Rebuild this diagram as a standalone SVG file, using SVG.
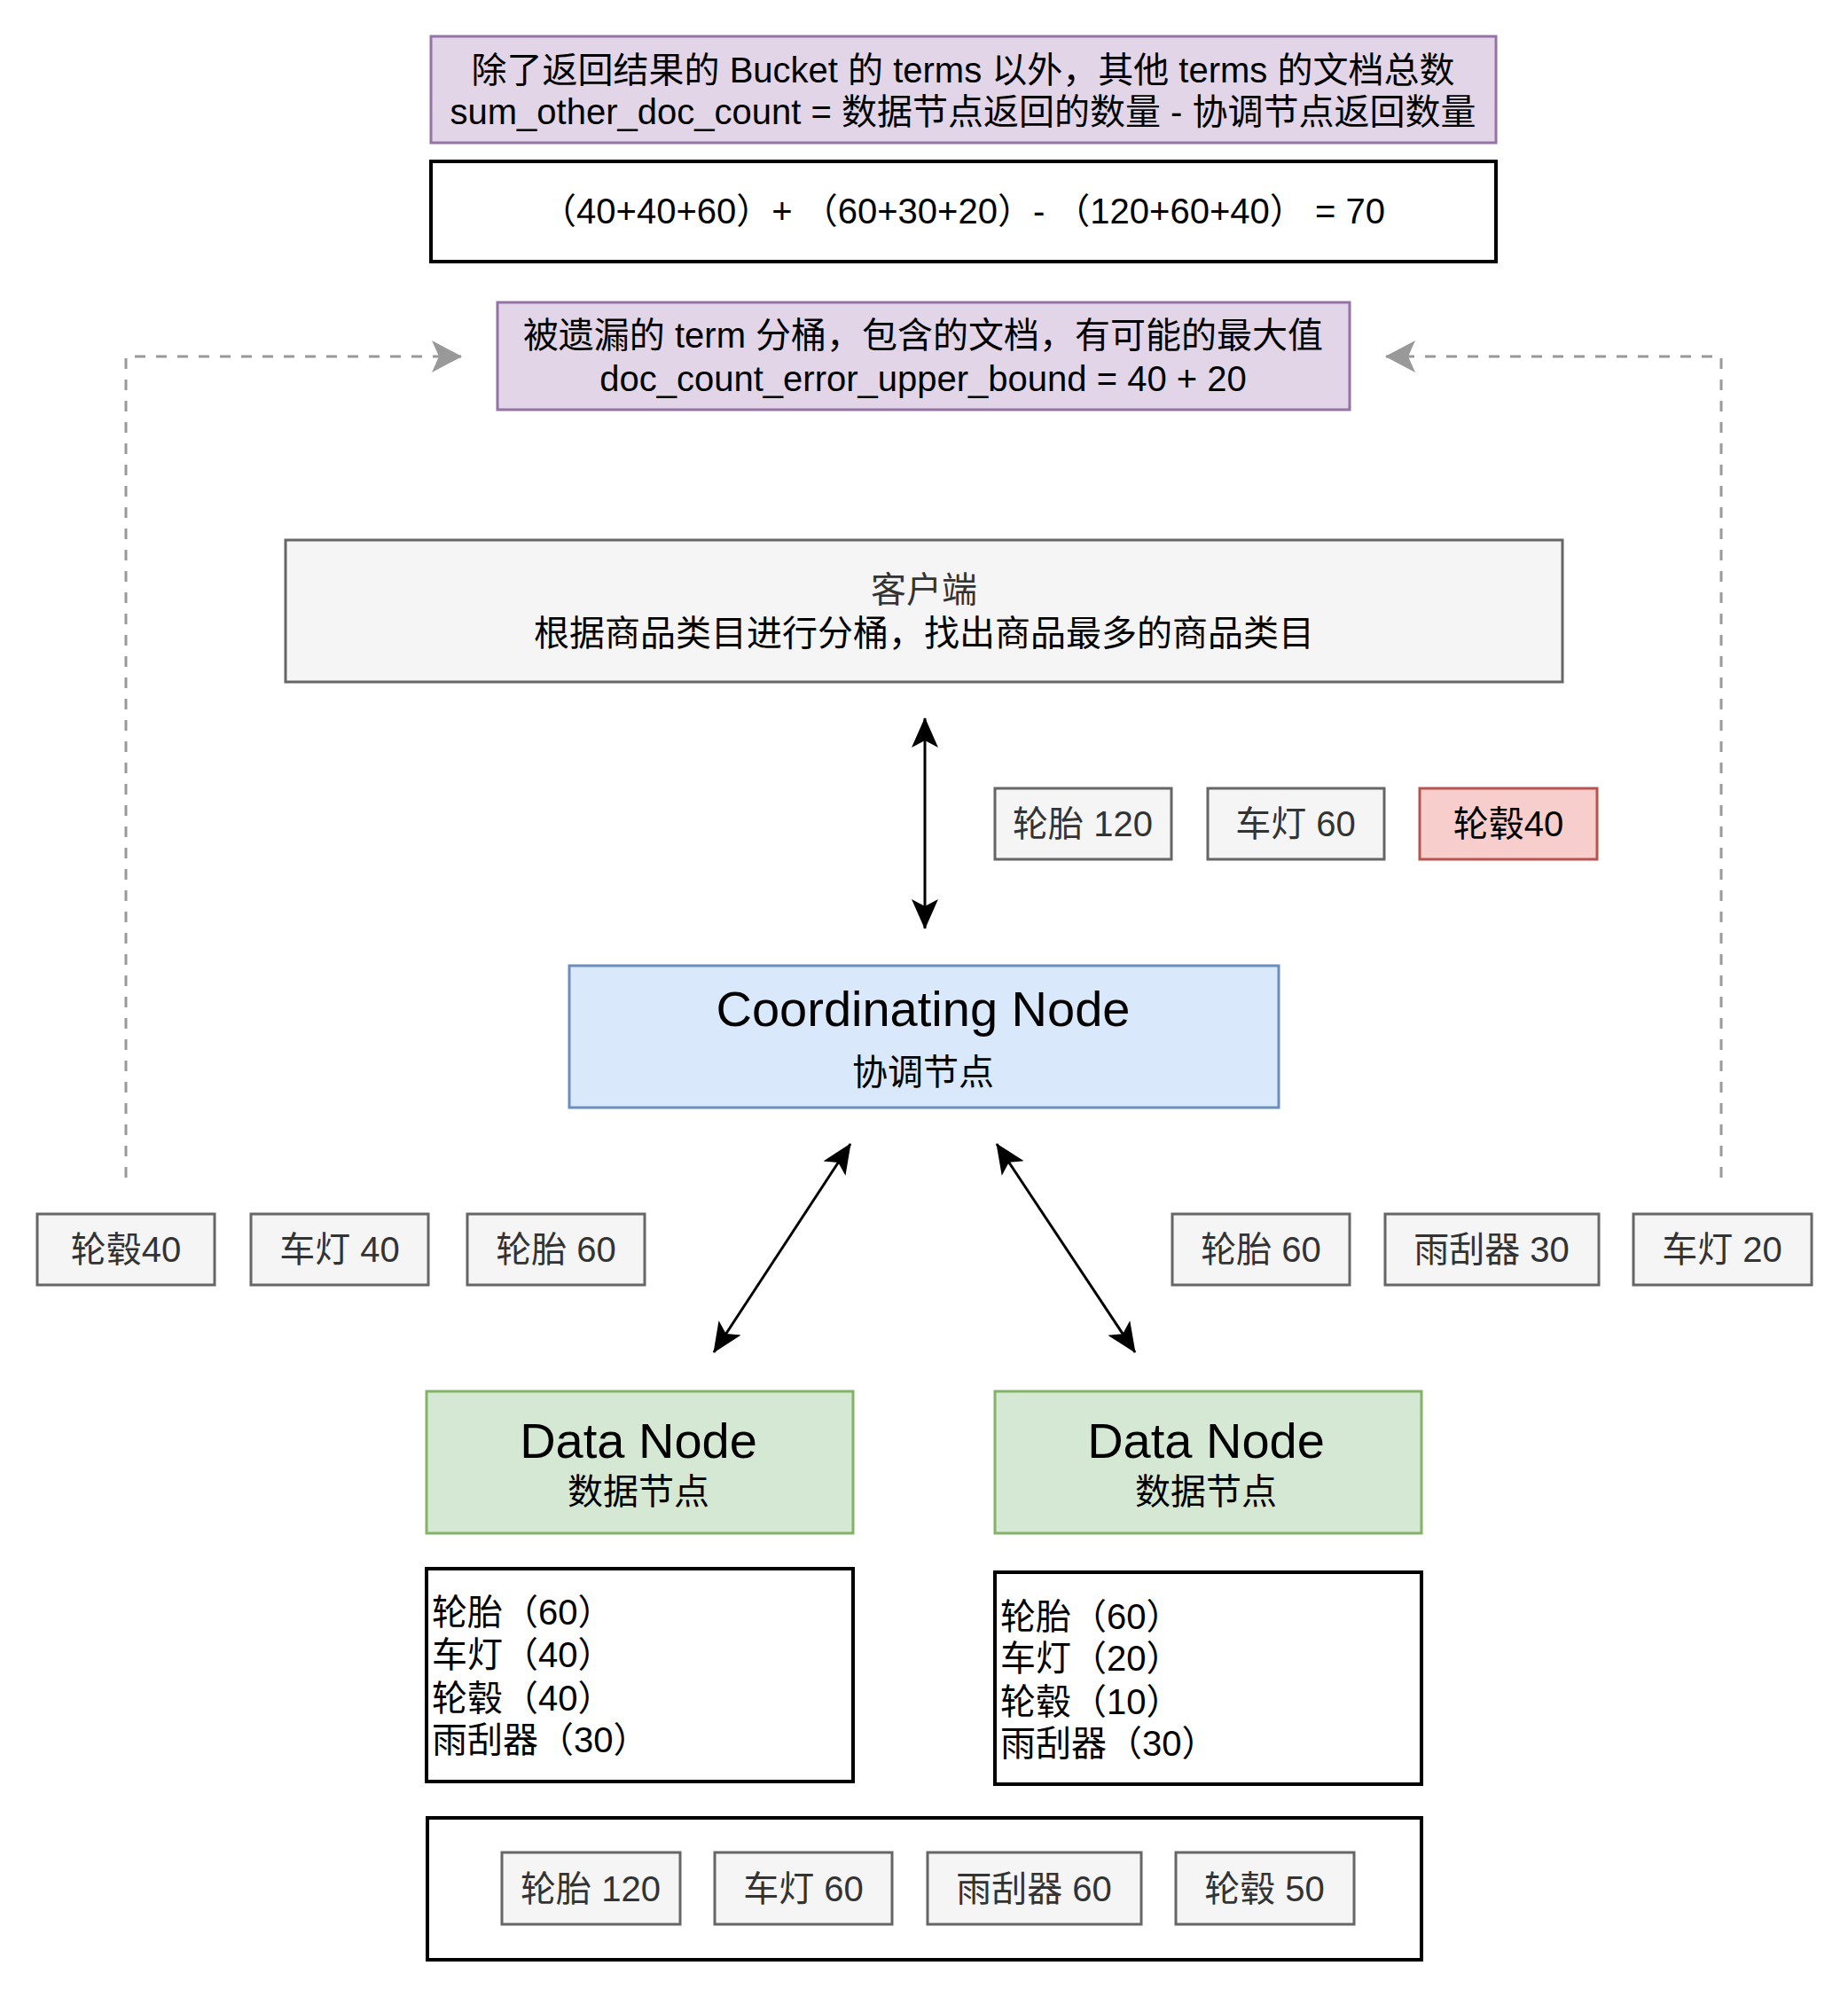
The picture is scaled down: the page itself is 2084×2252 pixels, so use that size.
<svg xmlns="http://www.w3.org/2000/svg" width="2084" height="2252" viewBox="0 0 2084 2252">
<defs>
<style>
text{font-family:"Liberation Sans","Noto Sans CJK SC",sans-serif;font-size:40px;text-anchor:middle;dominant-baseline:central;fill:#000}
.g{fill:#333333}
.big{font-size:56px}
.l{text-anchor:start}
.purple{fill:#e1d5e7;stroke:#9673a6;stroke-width:3}
.plain{fill:#ffffff;stroke:#000000;stroke-width:4}
.gray{fill:#f5f5f5;stroke:#666666;stroke-width:3}
.red{fill:#f8cecc;stroke:#b85450;stroke-width:3}
.blue{fill:#dae8fc;stroke:#6c8ebf;stroke-width:3}
.green{fill:#d5e8d4;stroke:#82b366;stroke-width:3}
.conn{fill:none;stroke:#000;stroke-width:3}
.dash{fill:none;stroke:#999999;stroke-width:3;stroke-dasharray:12 12}
</style>
<marker id="ab" viewBox="0 0 34 32" markerUnits="userSpaceOnUse" markerWidth="34" markerHeight="32" refX="33" refY="16" orient="auto-start-reverse">
<path d="M0,1 L34,16 L0,31 L8,16 Z" fill="#000"/>
</marker>
<marker id="ag" viewBox="0 0 34 36" markerUnits="userSpaceOnUse" markerWidth="34" markerHeight="36" refX="33" refY="18" orient="auto">
<path d="M0,0 L34,18 L0,36 L8,18 Z" fill="#999999"/>
</marker>
</defs>

<g id="connectors">
<path class="dash" d="M142,1328 V402 H520" marker-end="url(#ag)"/>
<path class="dash" d="M1941,1328 V402 H1563" marker-end="url(#ag)"/>
<line class="conn" x1="1043" y1="810" x2="1043" y2="1047" marker-start="url(#ab)" marker-end="url(#ab)"/>
<line class="conn" x1="959" y1="1290" x2="805" y2="1525" marker-start="url(#ab)" marker-end="url(#ab)"/>
<line class="conn" x1="1124" y1="1290" x2="1280" y2="1525" marker-start="url(#ab)" marker-end="url(#ab)"/>
</g>

<g id="note-sum">
<rect class="purple" x="486" y="41" width="1201" height="120"/>
<text x="1086" y="79">除了返回结果的 Bucket 的 terms 以外，其他 terms 的文档总数</text>
<text x="1086" y="126">sum_other_doc_count = 数据节点返回的数量 - 协调节点返回数量</text>
</g>

<g id="formula">
<rect class="plain" x="486" y="182" width="1201" height="113"/>
<text x="1086" y="238">（40+40+60）+ （60+30+20）- （120+60+40） = 70</text>
</g>

<g id="note-error">
<rect class="purple" x="561" y="341" width="961" height="121"/>
<text x="1041" y="378">被遗漏的 term 分桶，包含的文档，有可能的最大值</text>
<text x="1041" y="427">doc_count_error_upper_bound = 40 + 20</text>
</g>

<g id="client">
<rect class="gray" x="322" y="609" width="1440" height="160" stroke-width="4"/>
<text class="g" x="1042" y="665">客户端</text>
<text x="1042" y="714">根据商品类目进行分桶，找出商品最多的商品类目</text>
</g>

<g id="r1-tire"><rect class="gray" x="1122" y="889" width="199" height="80"/><text class="g" x="1221" y="929">轮胎 120</text></g>
<g id="r1-lamp"><rect class="gray" x="1362" y="889" width="199" height="80"/><text class="g" x="1461" y="929">车灯 60</text></g>
<g id="r1-hub"><rect class="red" x="1601" y="889" width="200" height="80"/><text x="1701" y="929">轮毂40</text></g>

<g id="coord">
<rect class="blue" x="642" y="1089" width="800" height="160"/>
<text class="big" x="1041" y="1137">Coordinating Node</text>
<text x="1041" y="1209">协调节点</text>
</g>

<g id="l-hub"><rect class="gray" x="42" y="1369" width="200" height="80"/><text class="g" x="142" y="1409">轮毂40</text></g>
<g id="l-lamp"><rect class="gray" x="283" y="1369" width="200" height="80"/><text class="g" x="383" y="1409">车灯 40</text></g>
<g id="l-tire"><rect class="gray" x="527" y="1369" width="200" height="80"/><text class="g" x="627" y="1409">轮胎 60</text></g>

<g id="r-tire"><rect class="gray" x="1322" y="1369" width="200" height="80"/><text class="g" x="1422" y="1409">轮胎 60</text></g>
<g id="r-wiper"><rect class="gray" x="1562" y="1369" width="241" height="80"/><text class="g" x="1682" y="1409">雨刮器 30</text></g>
<g id="r-lamp"><rect class="gray" x="1842" y="1369" width="201" height="80"/><text class="g" x="1942" y="1409">车灯 20</text></g>

<g id="data1">
<rect class="green" x="481" y="1569" width="481" height="160"/>
<text class="big" x="720" y="1624">Data Node</text>
<text x="720" y="1682">数据节点</text>
</g>
<g id="data2">
<rect class="green" x="1122" y="1569" width="481" height="160"/>
<text class="big" x="1360" y="1624">Data Node</text>
<text x="1360" y="1682">数据节点</text>
</g>

<g id="list1">
<rect class="plain" x="481" y="1769" width="481" height="240"/>
<text class="l" x="487" y="1818">轮胎（60）</text>
<text class="l" x="487" y="1866">车灯（40）</text>
<text class="l" x="487" y="1915">轮毂（40）</text>
<text class="l" x="487" y="1962">雨刮器（30）</text>
</g>
<g id="list2">
<rect class="plain" x="1122" y="1773" width="481" height="239"/>
<text class="l" x="1128" y="1823">轮胎（60）</text>
<text class="l" x="1128" y="1870">车灯（20）</text>
<text class="l" x="1128" y="1919">轮毂（10）</text>
<text class="l" x="1128" y="1966">雨刮器（30）</text>
</g>

<g id="result">
<rect class="plain" x="482" y="2050" width="1121" height="160"/>
<g id="b-tire"><rect class="gray" x="566" y="2089" width="201" height="81"/><text class="g" x="666" y="2130">轮胎 120</text></g>
<g id="b-lamp"><rect class="gray" x="806" y="2089" width="200" height="81"/><text class="g" x="906" y="2130">车灯 60</text></g>
<g id="b-wiper"><rect class="gray" x="1046" y="2089" width="241" height="81"/><text class="g" x="1166" y="2130">雨刮器 60</text></g>
<g id="b-hub"><rect class="gray" x="1326" y="2089" width="201" height="81"/><text class="g" x="1426" y="2130">轮毂 50</text></g>
</g>
</svg>
